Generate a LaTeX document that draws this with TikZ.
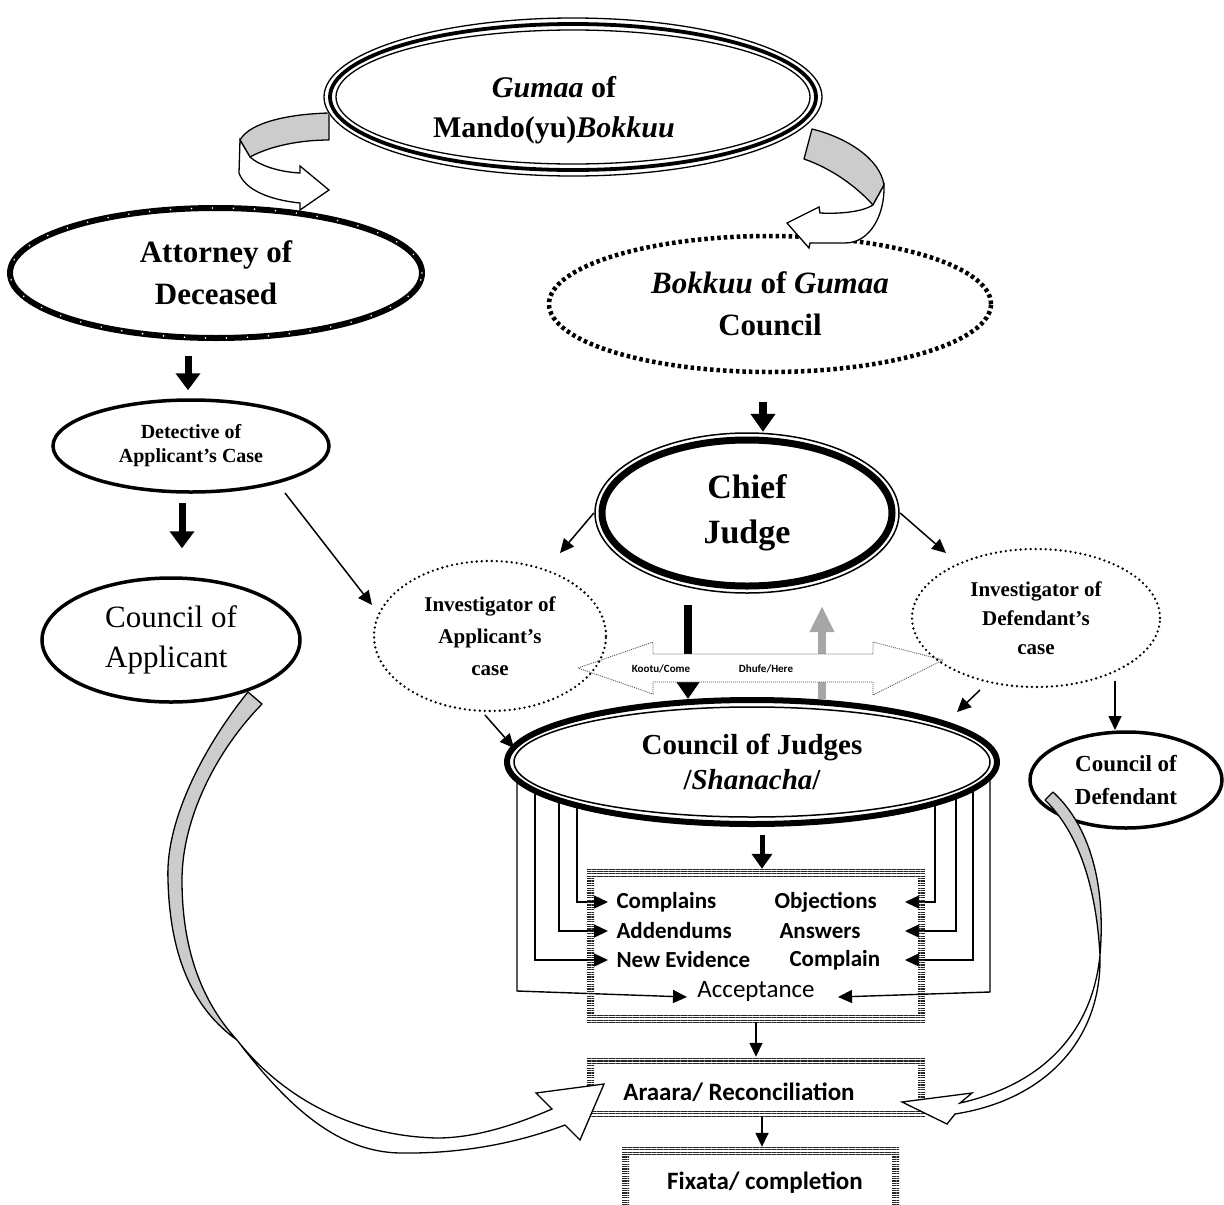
\documentclass[tikz,border=0pt]{standalone}
\usepackage{fontspec}
\setmainfont{Liberation Serif}
\newfontfamily\calib{Carlito}
\usetikzlibrary{shapes.geometric,arrows.meta,patterns.meta}
\tikzset{
 oval/.style={ellipse, inner sep=0pt, align=center, fill=white},
 solidb/.style={draw, line width=3.5pt},
 dotb/.style={draw, line width=2.6pt, dash pattern=on 0pt off 5pt, line cap=round},
 dashb/.style={draw, line width=4.5pt, dash pattern=on 3.5pt off 3pt},
 bigarr/.style={line width=7pt, -{Triangle[length=17pt,width=24pt]}},
 thinarr/.style={line width=1.5pt, -{Triangle[length=14pt,width=13pt]}},
 boxarr/.style={line width=1.4pt, -{Triangle[length=14pt,width=13pt]}},
 stripe/.style={pattern={Lines[angle=0,distance=2.4pt,line width=1.1pt]}, pattern color=black!85},
 gband/.style={fill=black!20, draw=black, line width=1.3pt, line join=round},
 wband/.style={fill=white, draw=black, line width=1.3pt, line join=miter},
 ser/.style 2 args={font=\fontsize{#1}{#2}\selectfont\bfseries},
 cal/.style 2 args={font=\calib\fontsize{#1}{#2}\selectfont\bfseries},
}
\begin{document}
\begin{tikzpicture}[x=1pt,y=-1pt]
\useasboundingbox (0,0) rectangle (1224,1205);

% ---------- upper ellipses ----------
\node[oval, draw, line width=6pt, minimum width=412pt, minimum height=130pt, ser={31}{42}] (att) at (216,273) {Attorney of\\Deceased};
\draw[white, line width=1.8pt, dash pattern=on 0pt off 21pt, line cap=round] (att.center) ellipse [x radius=206pt, y radius=65pt];

\node[oval, dashb, minimum width=442pt, minimum height=136pt, ser={31}{42}] (bok) at (770,304) {\textit{Bokkuu} of \textit{Gumaa}\\Council};

% top curved ribbons
\filldraw[gband] (329,113) .. controls (290,114) and (250,122) .. (240,140) -- (250,157) .. controls (270,146) and (300,140) .. (329,140) -- cycle;
\filldraw[wband] (240,140) -- (239,173) .. controls (245,190) and (270,200) .. (300,203) -- (300,210) -- (329,190) -- (300,166) -- (300,173) .. controls (280,172) and (260,166) .. (250,157) -- cycle;
\filldraw[gband] (812,129) .. controls (845,137) and (880,158) .. (884,185) -- (873,205) .. controls (855,185) and (830,168) .. (804,159) -- cycle;
\filldraw[wband] (884,185) .. controls (885,215) and (870,243) .. (845,243) -- (810,243) -- (809,248) -- (787,223) -- (819,207) -- (820,213) .. controls (840,214) and (862,212) .. (873,205) -- cycle;

\node[oval, minimum width=500pt, minimum height=160pt] (top) at (573,97) {};
\draw[line width=1.3pt] (top.center) ellipse [x radius=249pt, y radius=79pt];
\draw[line width=3.8pt] (top.center) ellipse [x radius=243pt, y radius=73pt];
\draw[line width=1.3pt] (top.center) ellipse [x radius=237pt, y radius=67pt];
\node[ser={30}{40}, align=center] (toptext) at (554,110) {\textit{Gumaa} of\\Mando(yu)\textit{Bokkuu}};

\node[oval, solidb, minimum width=276pt, minimum height=92pt, ser={20}{24}] (det) at (191,446) {Detective of\\Applicant's Case};
\node[oval, solidb, minimum width=258pt, minimum height=124pt, font=\fontsize{31}{40}\selectfont, align=left] (capp) at (171,640) {Council of\\Applicant};

\node[oval, minimum width=306pt, minimum height=162pt, ser={34}{45}] (chief) at (747,513) {Chief\\Judge};
\draw[line width=1.5pt] (chief.center) ellipse [x radius=152pt, y radius=80pt];
\draw[line width=7pt] (chief.center) ellipse [x radius=145pt, y radius=73pt];

% ---------- coordinates for free ends ----------
\coordinate (xA) at (188,0);
\coordinate (xB) at (182,0);
\coordinate (xC) at (763,0);
\coordinate (xE) at (762,0);
\coordinate (dA) at (285,493);
\coordinate (eA) at (372,605);
\coordinate (cA) at (560,553);
\coordinate (cD) at (946,553);
\coordinate (iA) at (485,715);
\coordinate (jA) at (514,748);
\coordinate (iD) at (980,690);
\coordinate (jD) at (957,712);
\coordinate (kD) at (1115,681);
\coordinate (kT) at (1115,730);
\coordinate (bkT) at (688,605);
\coordinate (bkB) at (688,699);
\coordinate (grB) at (822,699);
\coordinate (grT) at (822,606);

% ---------- arrows upper part ----------
\draw[bigarr, shorten <=15pt, shorten >=8pt] (xA |- att.south) -- (xA |- det.north);
\draw[bigarr, shorten <=9pt, shorten >=28pt] (xB |- det.south) -- (xB |- capp.north);
\draw[thinarr] (dA) -- (eA);
\draw[line width=8pt, -{Triangle[length=18pt,width=24pt]}, shorten <=28pt] (xC |- bok.south) -- (xC |- chief.north);
\draw[thinarr] (chief.west) -- (cA);
\draw[thinarr] (chief.east) -- (cD);

% vertical arrows and the two-way arrow
\draw[line width=8pt, -{Triangle[length=17pt,width=22pt]}] (bkT) -- (bkB);
\draw[black!35, line width=8pt, -{Triangle[length=26pt,width=23pt]}] (grB) -- (grT);
\draw[draw=black!70, line width=0.8pt, dash pattern=on 1pt off 1pt, fill=white] (578,668) -- (653,642) -- (653,654) -- (873,654) -- (873,642) -- (943,660) -- (873,695) -- (873,682) -- (653,682) -- (653,694) -- cycle;
\node[cal={11}{13}] (kootu) at (661,669) {Kootu/Come};
\node[cal={11}{13}] (dhufe) at (766,669) {Dhufe/Here};

\node[ellipse, inner sep=0pt, align=center, dotb, minimum width=232pt, minimum height=150pt, ser={21}{32}] (invA) at (490,636) {Investigator of\\Applicant's\\case};
\node[ellipse, inner sep=0pt, align=center, dotb, minimum width=248pt, minimum height=138pt, ser={21}{29}] (invD) at (1036,618) {Investigator of\\Defendant's\\case};

% ---------- council of judges ----------
\node[oval, minimum width=496pt, minimum height=130pt, ser={29}{35}] (cj) at (752,762) {Council of Judges\\/\textit{Shanacha}/};

% box 1 text nodes
\node[cal={23}{26}, anchor=west] (tcomp) at (613,902) {Complains};
\node[cal={23}{26}, anchor=west] (tobj) at (771,902) {Objections};
\node[cal={23}{26}, anchor=west] (tadd) at (613,931) {Addendums};
\node[cal={23}{26}, anchor=west] (tans) at (776,931) {Answers};
\node[cal={23}{26}, anchor=west] (tnew) at (613,960) {New Evidence};
\node[cal={23}{26}, anchor=west] (tcpl) at (786,960) {Complain};
\node[font=\calib\fontsize{25}{28}\selectfont] (tacc) at (756,991) {Acceptance};

\coordinate (l1) at (577,804);
\coordinate (l2) at (559,799);
\coordinate (l3) at (535,789);
\coordinate (l4) at (517,779);
\coordinate (r1) at (935,802);
\coordinate (r2) at (956,795);
\coordinate (r3) at (973,787);
\coordinate (r4) at (990,776);
\coordinate (lin) at (608,0);
\coordinate (rin) at (905,0);
\coordinate (la) at (687,997);
\coordinate (ra) at (838,997);

\draw[boxarr] (l1) |- (lin |- tcomp);
\draw[boxarr] (l2) |- (lin |- tadd);
\draw[boxarr] (l3) |- (lin |- tnew);
\draw[boxarr] (l4) -- (517,991) -- (la);
\draw[boxarr] (r1) |- (rin |- tobj);
\draw[boxarr] (r2) |- (rin |- tans);
\draw[boxarr] (r3) |- (rin |- tcpl);
\draw[boxarr] (r4) -- (990,992) -- (ra);

\draw[line width=6pt] (cj.center) ellipse [x radius=245pt, y radius=62pt];
\draw[line width=1.5pt] (cj.center) ellipse [x radius=238pt, y radius=55pt];

\draw[thinarr] (iA) -- (jA);
\draw[thinarr] (iD) -- (jD);
\draw[thinarr] (kD) -- (kT);

\node[oval, solidb, minimum width=192pt, minimum height=96pt, ser={23}{33}] (cdef) at (1126,780) {Council of\\Defendant};

% ---------- boxes ----------
\node[minimum width=338pt, minimum height=153pt, inner sep=0pt] (box1) at (756,945.5) {};
\fill[stripe] (587,869) rectangle (925,877);
\fill[stripe] (587,1014) rectangle (925,1022);
\fill[stripe] (587,877) rectangle (594,1014);
\fill[stripe] (918,877) rectangle (925,1014);

\node[minimum width=338pt, minimum height=60pt, inner sep=0pt] (box2) at (756,1087) {};
\fill[stripe] (587,1057) rectangle (925,1064);
\fill[stripe] (587,1110) rectangle (925,1117);
\fill[stripe] (587,1064) rectangle (594,1110);
\fill[stripe] (918,1064) rectangle (925,1110);
\node[cal={25}{28}] (tara) at (739,1092) {Araara/ Reconciliation};

\node[minimum width=277pt, minimum height=63pt, inner sep=0pt] (box3) at (760.5,1178.5) {};
\fill[stripe] (622,1147) rectangle (899,1154);
\fill[stripe] (622,1154) rectangle (629,1212);
\fill[stripe] (892,1154) rectangle (899,1212);
\node[cal={25}{28}] (tfix) at (765,1183) {Fixata/ completion};

\draw[line width=5pt, -{Triangle[length=15pt,width=20pt]}, shorten <=8pt] (xE |- cj.south) -- (xE |- box1.north);
\draw[thinarr] (box1.south) -- (box2.north);
\draw[thinarr] (xE |- box2.south) -- (xE |- box3.north);

% ---------- bottom curved ribbons ----------
\filldraw[gband] (248,692) .. controls (205,745) and (165,820) .. (168,880) .. controls (170,960) and (195,1010) .. (237,1040) .. controls (205,1005) and (182,955) .. (182,880) .. controls (182,820) and (215,752) .. (262,704) -- cycle;
\filldraw[wband] (237,1040) .. controls (290,1110) and (340,1152) .. (400,1153) .. controls (470,1154) and (525,1140) .. (565,1125) -- (580,1140) -- (604,1084) -- (536,1093) -- (552,1109) .. controls (515,1125) and (475,1138) .. (437,1138) .. controls (350,1136) and (280,1095) .. (237,1040) -- cycle;

\filldraw[gband] (1045,800) .. controls (1078,832) and (1096,885) .. (1100,955) .. controls (1106,885) and (1090,826) .. (1053,792) -- cycle;
\filldraw[wband] (1100,955) .. controls (1102,1040) and (1045,1100) .. (955,1114) -- (947,1124) -- (902,1102) -- (972,1093) -- (960,1103) .. controls (1040,1085) and (1092,1035) .. (1100,955) -- cycle;
\end{tikzpicture}
\end{document}
